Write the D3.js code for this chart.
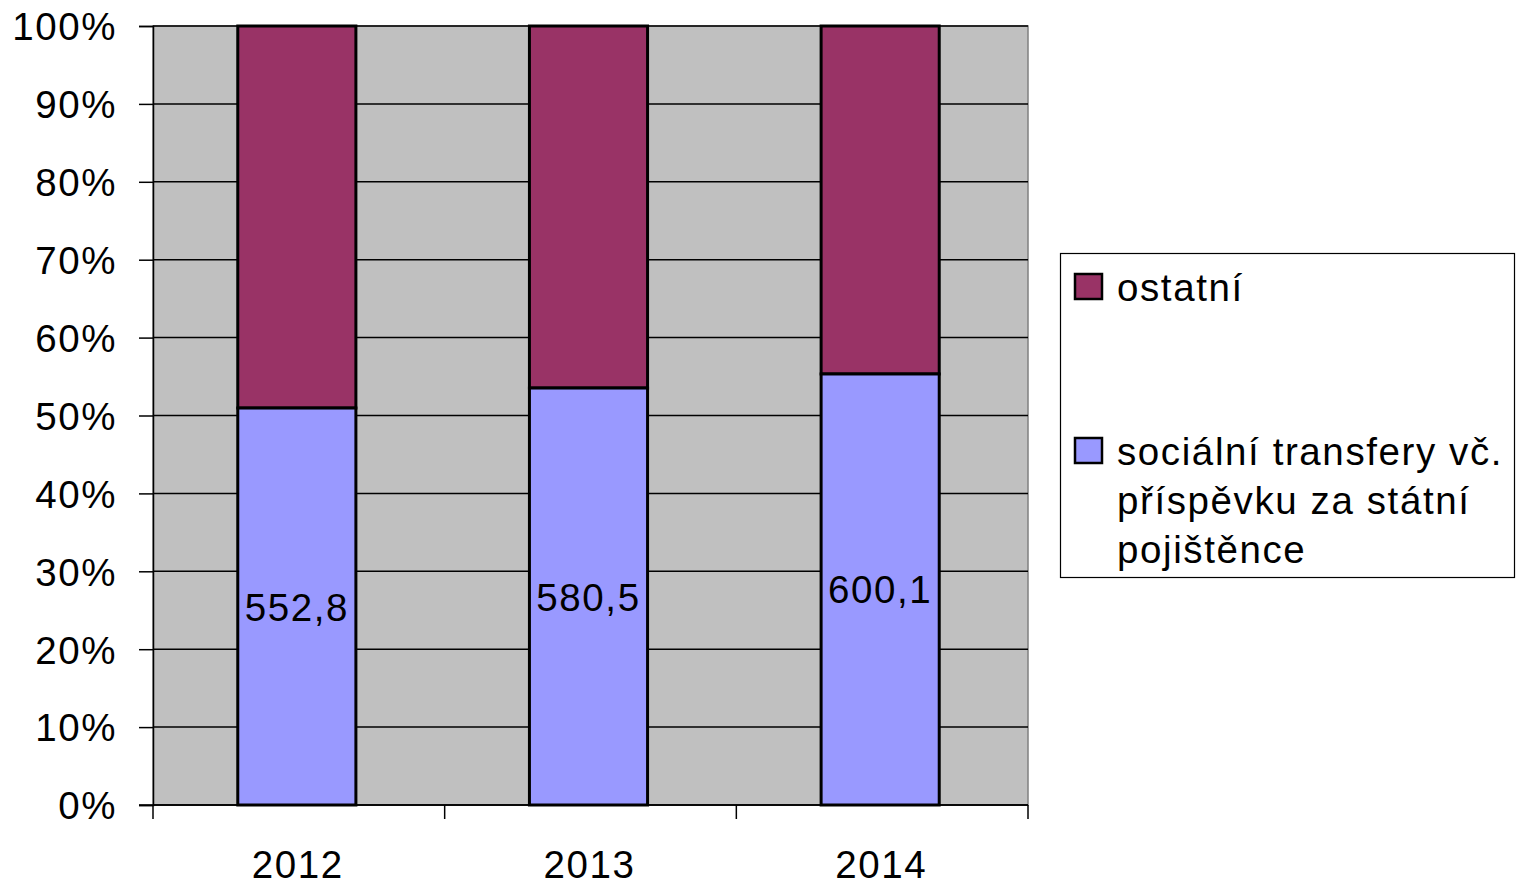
<!DOCTYPE html>
<html>
<head>
<meta charset="utf-8">
<script src="https://cdn.jsdelivr.net/npm/d3@7"></script>
<style>
body { margin: 0; background: #fff; }
text { font-family: "Liberation Sans", Arial, sans-serif; fill: #000; letter-spacing: 1.6px; }
</style>
</head>
<body>
<script>
// data
var years = ["2012", "2013", "2014"];
var transfery = [552.8, 580.5, 600.1];
var ostatni = [532, 504, 484.5];
var yTicks = [0, 0.1, 0.2, 0.3, 0.4, 0.5, 0.6, 0.7, 0.8, 0.9, 1];
var legendLines = [["ostatní"], ["sociální transfery vč.", "příspěvku za státní", "pojištěnce"]];
var colors = ["#993366", "#9999FF"];

var w = 1516, h = 885;
var pL = 153, pR = 1028, pT = 26, pB = 805;
var fs = "38.5px";

var svg = d3.select("body").append("svg")
    .attr("width", w)
    .attr("height", h);

var x = d3.scaleBand().domain(years).range([pL - 2, pR - 2]).paddingInner(0.595).paddingOuter(0.2975);
var band = d3.scaleBand().domain(years).range([pL, pR]);
var y = d3.scaleLinear().domain([0, 1]).range([pB, pT]);

// plot area
svg.append("rect")
    .attr("x", pL).attr("y", pT)
    .attr("width", pR - pL).attr("height", pB - pT)
    .attr("fill", "#C0C0C0")
    .attr("stroke", "#808080")
    .attr("stroke-width", 1.5);

// gridlines
svg.selectAll("line.grid")
    .data(yTicks)
    .enter()
    .append("line")
    .attr("class", "grid")
    .attr("x1", pL).attr("x2", pR)
    .attr("y1", function(d) { return y(d); })
    .attr("y2", function(d) { return y(d); })
    .attr("stroke", "#000")
    .attr("stroke-width", 1.5);

// y axis
var yAxis = svg.append("g")
    .attr("transform", "translate(" + pL + ",0)")
    .call(d3.axisLeft(y).tickValues(yTicks).tickFormat(d3.format(".0%")).tickSize(14).tickPadding(22));
yAxis.select(".domain").attr("stroke", "#000").attr("stroke-width", 1.5);
yAxis.selectAll(".tick line").attr("stroke", "#000").attr("stroke-width", 1.5);
yAxis.selectAll("text")
    .style("font-size", fs)
    .style("font-family", "'Liberation Sans', Arial, sans-serif")
    .attr("dy", "0.36em")
    .attr("fill", "#000");

// x axis
var xAxis = svg.append("g")
    .attr("transform", "translate(0," + pB + ")");
xAxis.append("line")
    .attr("x1", pL - 14).attr("x2", pR)
    .attr("y1", 0).attr("y2", 0)
    .attr("stroke", "#000").attr("stroke-width", 1.5);
var xEdges = [pL].concat(years.map(function(d) { return band(d) + band.bandwidth(); }));
xAxis.selectAll("line.xt")
    .data(xEdges)
    .enter()
    .append("line")
    .attr("class", "xt")
    .attr("x1", function(d) { return d; })
    .attr("x2", function(d) { return d; })
    .attr("y1", 0).attr("y2", 14)
    .attr("stroke", "#000").attr("stroke-width", 1.5);
xAxis.selectAll("text")
    .data(years)
    .enter()
    .append("text")
    .attr("x", function(d) { return x(d) + x.bandwidth() / 2 + 1; })
    .attr("y", 73)
    .attr("text-anchor", "middle")
    .style("font-size", fs)
    .text(function(d) { return d; });

// stacked bars
var rows = years.map(function(d, i) {
    var tot = transfery[i] + ostatni[i];
    return { year: d, t: transfery[i] / tot, o: ostatni[i] / tot, val: transfery[i] };
});

svg.selectAll("rect.o")
    .data(rows)
    .enter()
    .append("rect")
    .attr("class", "o")
    .attr("x", function(d) { return x(d.year); })
    .attr("width", x.bandwidth())
    .attr("y", function(d) { return y(1); })
    .attr("height", function(d) { return y(d.t) - y(1); })
    .attr("fill", colors[0])
    .attr("stroke", "#000")
    .attr("stroke-width", 3);

svg.selectAll("rect.t")
    .data(rows)
    .enter()
    .append("rect")
    .attr("class", "t")
    .attr("x", function(d) { return x(d.year); })
    .attr("width", x.bandwidth())
    .attr("y", function(d) { return y(d.t); })
    .attr("height", function(d) { return y(0) - y(d.t); })
    .attr("fill", colors[1])
    .attr("stroke", "#000")
    .attr("stroke-width", 3);

svg.selectAll("text.val")
    .data(rows)
    .enter()
    .append("text")
    .attr("class", "val")
    .attr("x", function(d) { return x(d.year) + x.bandwidth() / 2; })
    .attr("y", function(d) { return (y(d.t) + y(0)) / 2 + 14; })
    .attr("text-anchor", "middle")
    .style("font-size", fs)
    .text(function(d) { return d3.format(".1f")(d.val).replace(".", ","); });

// legend
var lg = svg.append("g");
lg.append("rect")
    .attr("x", 1060.5).attr("y", 253.5)
    .attr("width", 454).attr("height", 324)
    .attr("fill", "#fff")
    .attr("stroke", "#000")
    .attr("stroke-width", 1.2);

var legendY = [287, 451];
legendLines.forEach(function(lines, i) {
    lg.append("rect")
        .attr("x", 1075).attr("y", legendY[i] - 13)
        .attr("width", 27).attr("height", 25)
        .attr("fill", colors[i])
        .attr("stroke", "#000")
        .attr("stroke-width", 2.5);
    var t = lg.append("text")
        .attr("x", 1117)
        .attr("y", legendY[i] + 14)
        .style("font-size", fs);
    lines.forEach(function(l, j) {
        t.append("tspan")
            .attr("x", 1117)
            .attr("dy", j == 0 ? 0 : 49)
            .text(l);
    });
});
</script>
</body>
</html>
